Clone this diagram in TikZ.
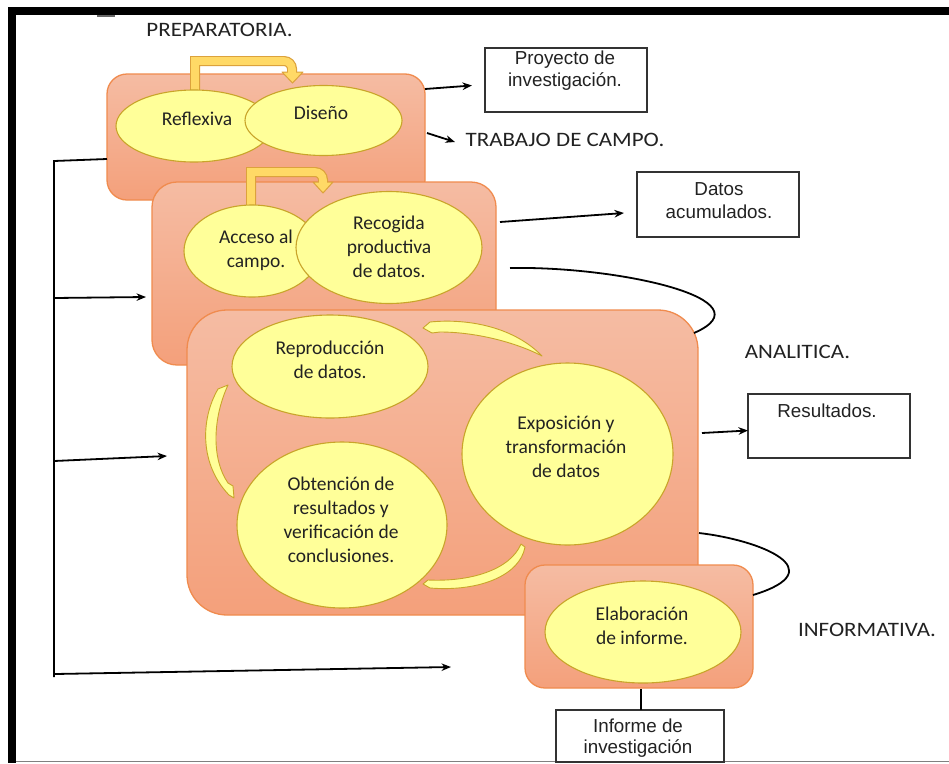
\documentclass[tikz,border=0pt]{standalone}
\usepackage{fontspec}
\setmainfont{Carlito}
\newfontfamily\lblfont[FakeStretch=1.12]{Carlito}
\newfontfamily\boxfont{Liberation Sans}
\usetikzlibrary{shapes.geometric,arrows.meta}
\definecolor{boxtop}{HTML}{F5BCA3}
\definecolor{boxbot}{HTML}{F4A07B}
\definecolor{boxline}{HTML}{F08B4E}
\definecolor{ellfill}{HTML}{FFFF99}
\definecolor{elline}{HTML}{C9A42A}
\definecolor{bentfill}{HTML}{FFD966}
\definecolor{bentline}{HTML}{DCA23C}
\definecolor{txt}{HTML}{222222}
\begin{document}
\begin{tikzpicture}[x=1pt,y=-1pt,
 phase/.style={draw=boxline, line width=1.3pt, top color=boxtop, bottom color=boxbot, inner sep=0pt},
 ell/.style={ellipse, draw=elline, line width=1.1pt, fill=ellfill, inner sep=0pt},
 etext/.style={font=\fontsize{19.5}{24}\selectfont, text=txt, align=center, inner sep=0pt},
 outbox/.style={draw=black!80, line width=1.4pt, fill=white, inner sep=0pt},
 btext/.style={font=\boxfont\fontsize{18.8}{21.5}\selectfont, text=txt, align=center, inner sep=0pt},
 lbl/.style={font=\lblfont\fontsize{20.5}{24}\selectfont, text=txt, inner sep=0pt},
 conn/.style={line width=1.8pt, black},
 arr/.style={conn, -{Stealth[length=9.5pt,width=7.5pt]}},
 crescent/.style={fill=ellfill, draw=elline, line width=0.9pt, line join=round},
 bentout/.style={draw=bentline, line width=10pt},
 bentin/.style={draw=bentfill, line width=7.6pt},
 benthead/.style={fill=bentfill, draw=bentline, line width=1pt, line join=round}
]
\useasboundingbox (0,0) rectangle (949,763);
\fill[white] (0,0) rectangle (949,763);

% frame
\fill[black] (8,7) rectangle (949,15);
\fill[black] (8,7) rectangle (16,763);
\draw[gray, line width=1.2pt] (16,761.5) -- (949,761.5);
\draw[black!60, line width=1.5pt] (97,16) -- (115,16);

% ---------- PREPARATORIA ----------
\node[phase, rounded corners=20pt, minimum width=318pt, minimum height=126pt] (prep) at (266,137) {};
\draw[bentout] (195,100) -- (195,61) -- (284,61) to[out=0,in=90] (292,69) -- (292,74);
\filldraw[benthead] (282,72) -- (303,72) -- (292.5,83) -- cycle;
\draw[bentin] (195,100) -- (195,61) -- (284,61) to[out=0,in=90] (292,69) -- (292,73.2);
\node[ell, minimum width=156pt, minimum height=72pt] (refl) at (194,126) {};
\node[ell, minimum width=157pt, minimum height=70pt] (dise) at (323.5,120.5) {};
\node[etext] (reflt) at (197,118.5) {Reflexiva};
\node[etext] (diset) at (321,113) {Diseño};

% ---------- TRABAJO DE CAMPO ----------
\node[phase, rounded corners=25pt, minimum width=344pt, minimum height=183pt] (campo) at (324,273.5) {};
\draw[bentout] (251,215) -- (251,172) -- (315,172) to[out=0,in=90] (323,180) -- (323,184);
\filldraw[benthead] (313,182) -- (333,182) -- (323,193) -- cycle;
\draw[bentin] (251,215) -- (251,172) -- (315,172) to[out=0,in=90] (323,180) -- (323,183.2);
\node[ell, minimum width=136pt, minimum height=92pt] (acc) at (252,251) {};
\node[ell, minimum width=186pt, minimum height=112pt] (rec) at (389,247.5) {};
\node[etext] (acct) at (256,250) {Acceso al\\campo.};
\node[etext] (rect) at (389,247) {Recogida\\productiva\\de datos.};

% ---------- ANALITICA ----------
\node[phase, rounded corners=40pt, minimum width=511pt, minimum height=305pt] (anal) at (442.5,462.5) {};
\node[ell, minimum width=196pt, minimum height=103pt] (repr) at (330,366.5) {};
\node[ell, minimum width=211pt, minimum height=182pt] (expo) at (567.5,454) {};
\node[ell, minimum width=210pt, minimum height=166pt] (obte) at (342,525) {};
\node[etext] (reprt) at (330,360) {Reproducción\\de datos.};
\node[etext] (expot) at (566,447) {Exposición y\\transformación\\de datos};
\node[etext] (obtet) at (341,520) {Obtención de\\resultados y\\verificación de\\conclusiones.};
% cycle arrows
\draw[crescent] (423,328) -- (430,322) .. controls (470,318) and (515,328) .. (542,356)
  .. controls (515,342) and (475,332) .. (440,332) -- (432,333) -- cycle;
\draw[crescent] (218,389) .. controls (200,420) and (200,465) .. (229,495) -- (234,498) -- (233,486)
  -- (228,483) .. controls (212,460) and (212,420) .. (228,385) -- cycle;
\draw[crescent] (521,544) -- (525,547) .. controls (520,575) and (480,592) .. (430,588) -- (423,584)
  -- (428,580) .. controls (470,582) and (510,570) .. (521,544) -- cycle;

% ---------- INFORMATIVA ----------
\node[phase, rounded corners=20pt, minimum width=228pt, minimum height=123pt] (info) at (639,626.5) {};
\node[ell, minimum width=196pt, minimum height=102pt] (elab) at (643,632) {};
\node[etext] (elabt) at (642,626) {Elaboración\\de informe.};

% ---------- output boxes ----------
\node[outbox, minimum width=162pt, minimum height=64pt] (proy) at (566,80) {};
\node[btext] (proyt) at (565,70.5) {Proyecto de\\investigación.};
\node[outbox, minimum width=162pt, minimum height=65pt] (datos) at (718,204.5) {};
\node[btext] (datost) at (719,200.5) {Datos\\[2pt]acumulados.};
\node[outbox, minimum width=162pt, minimum height=64pt] (resu) at (829,426) {};
\node[btext] (resut) at (827,410.5) {Resultados.};
\node[outbox, minimum width=168pt, minimum height=52pt] (infor) at (640,736) {};
\node[btext] (infort) at (638,738) {Informe de\\investigación};

% ---------- phase labels ----------
\node[lbl] (lprep) at (219.5,29.5) {PREPARATORIA.};
\node[lbl] (lcampo) at (565,140) {TRABAJO DE CAMPO.};
\node[lbl] (lanal) at (797.5,352) {ANALITICA.};
\node[lbl] (linfo) at (867,630) {INFORMATIVA.};

% ---------- connectors ----------
\coordinate (a1s) at (425,89);   \coordinate (a1e) at (472,85.5);
\coordinate (a2s) at (427,133);  \coordinate (a2e) at (455,142);
\coordinate (a3s) at (500,222);  \coordinate (a3e) at (624,213);
\coordinate (a4s) at (702,433);  \coordinate (a4e) at (748,430.5);
\coordinate (c1s) at (510,268);  \coordinate (c1e) at (694,333);
\coordinate (c2s) at (699,533);  \coordinate (c2e) at (753,595);
\coordinate (l1s) at (641,689);  \coordinate (l1e) at (641,710);
\coordinate (bt) at (107,159);   \coordinate (bc) at (54,161);   \coordinate (bb) at (54,677);
\coordinate (b1s) at (54,298);   \coordinate (b1e) at (146,297);
\coordinate (b2s) at (54,461);   \coordinate (b2e) at (167,456);
\coordinate (b3s) at (55,674);   \coordinate (b3e) at (451,667);

\draw[arr] (a1s) -- (a1e);
\draw[arr] (a2s) -- (a2e);
\draw[arr] (a3s) -- (a3e);
\draw[arr] (a4s) -- (a4e);
\draw[conn] (c1s) .. controls (620,266) and (770,300) .. (c1e);
\draw[conn] (c2s) .. controls (760,540) and (835,570) .. (c2e);
\draw[conn, line width=2.6pt] (l1s) -- (l1e);
\draw[conn] (bt) -- (bc) -- (bb);
\draw[arr] (b1s) -- (b1e);
\draw[arr] (b2s) -- (b2e);
\draw[arr] (b3s) -- (b3e);
\end{tikzpicture}
\end{document}
